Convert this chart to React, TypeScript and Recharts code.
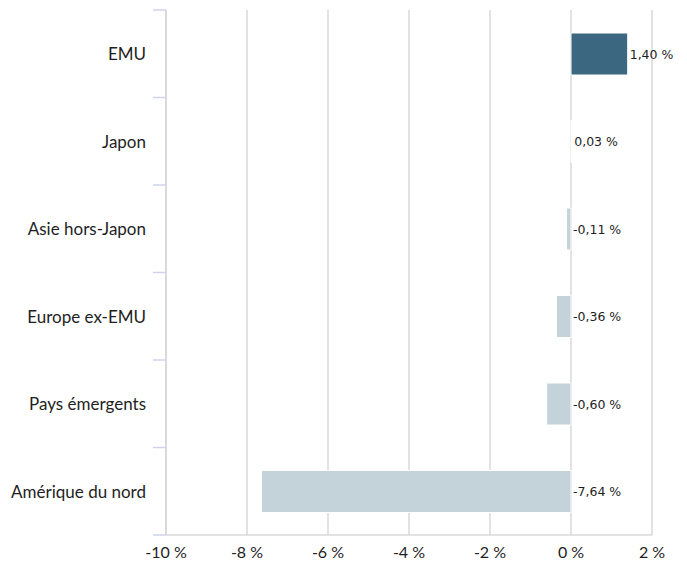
import { BarChart, Bar, XAxis, YAxis, CartesianGrid, Cell, LabelList } from "recharts"

const regions = ["EMU", "Japon", "Asie hors-Japon", "Europe ex-EMU", "Pays émergents", "Amérique du nord"]
const values = [1.4, 0.03, -0.11, -0.36, -0.6, -7.64]
const barColors = ["#3b6781", "#ffffff", "#c4d2da", "#c4d2da", "#c4d2da", "#c4d2da"]
const xTicks = [-10, -8, -6, -4, -2, 0, 2]

const data = regions.map((region, i) => ({ region, value: values[i] }))

const fmt = (v: number) => v.toFixed(2).replace(".", ",") + " %"

const TOP = 10
const BOTTOM = 34
const HEIGHT = 569
const BAND = (HEIGHT - TOP - BOTTOM) / regions.length

const CategoryTick = (props: any) => {
  const { x, y, payload, index } = props
  const half = BAND / 2
  return (
    <g>
      <line x1={x - 13} x2={x} y1={y - half} y2={y - half} stroke="#ccd5ec" strokeWidth={1.5} />
      {index === regions.length - 1 && (
        <line x1={x - 13} x2={x} y1={y + half} y2={y + half} stroke="#ccd5ec" strokeWidth={1.5} />
      )}
      <text x={x - 20} y={y} textAnchor="end" dominantBaseline="central" fontSize={17} fill="#1e1e1e" fontFamily="Lato">
        {payload.value}
      </text>
    </g>
  )
}

const ValueLabel = (props: any) => {
  const { x, y, width, height, value } = props
  const right = Math.max(x, x + width)
  return (
    <text x={right + 2} y={y + height / 2} dominantBaseline="central" fontSize={12.5} fill="#1e1e1e" fontFamily="DejaVu Sans">
      {fmt(value)}
    </text>
  )
}

export default function App() {
  return (
    <div style={{ position: "absolute", left: 0, top: 0, width: 687, height: HEIGHT, background: "#fff" }}>
      <BarChart
        width={687}
        height={HEIGHT}
        data={data}
        layout="vertical"
        margin={{ top: TOP, right: 35, left: 0, bottom: 0 }}
      >
        <CartesianGrid horizontal={false} stroke="#d9d9d9" strokeWidth={1.5} />
        <XAxis
          type="number"
          domain={[-10, 2]}
          ticks={xTicks}
          tickFormatter={(v: number) => `${v} %`}
          height={BOTTOM}
          tickLine={false}
          axisLine={{ stroke: "#d9d9d9", strokeWidth: 1.5 }}
          tick={{ fontSize: 16, fill: "#1e1e1e", fontFamily: "Lato" }}
          tickMargin={6}
        />
        <YAxis
          type="category"
          dataKey="region"
          width={166}
          tickLine={false}
          tickSize={0}
          tickMargin={0}
          axisLine={{ stroke: "#d3d6de", strokeWidth: 1.5 }}
          tick={<CategoryTick />}
          interval={0}
        />
        <Bar dataKey="value" barSize={42} stroke="#fff" strokeWidth={1} isAnimationActive={false}>
          {data.map((d, i) => (
            <Cell key={d.region} fill={barColors[i]} />
          ))}
          <LabelList dataKey="value" content={<ValueLabel />} />
        </Bar>
      </BarChart>
    </div>
  )
}
